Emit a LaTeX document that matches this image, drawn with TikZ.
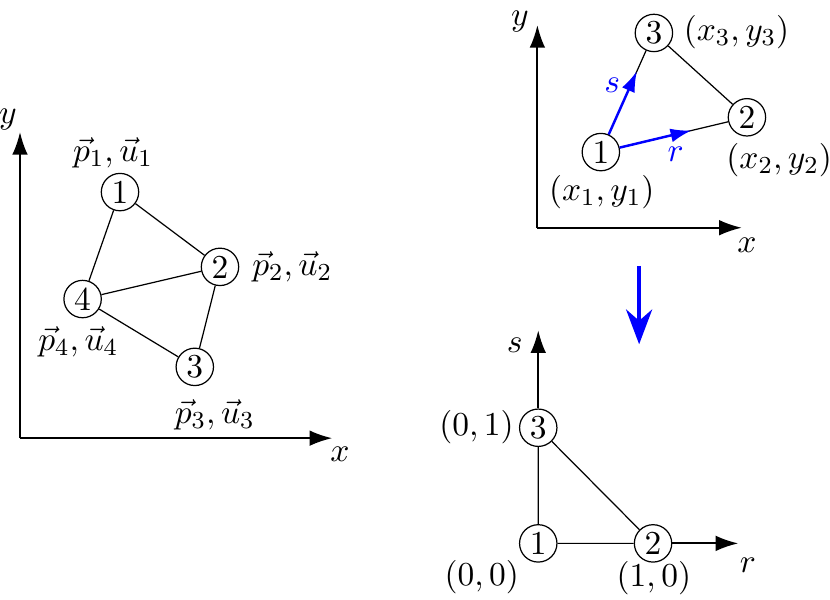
\documentclass[tikz,border=0pt,11pt]{standalone}
\usetikzlibrary{arrows.meta,calc}

\begin{document}
\begin{tikzpicture}
      [
        vertex/.style = {draw, circle, fill=white, inner sep=0pt, minimum size=0.43cm},
        axis/.style = {draw, line width=0.6pt, -{Latex[length=2.6mm,width=1.8mm]}},
        edge/.style = {draw, line width=0.4pt},
        local/.style = {draw, blue, line width=0.8pt, -{Latex[length=2.4mm,width=1.6mm]}},
      ]

      \useasboundingbox (0,0) rectangle (9.545,6.889);

      % physical element
      \coordinate (o1) at (0.23,1.85);
      \coordinate (y1) at (0.23,5.37);
      \coordinate (x1) at (3.82,1.85);
      \draw[axis] (o1) -- (y1);
      \draw[axis] (o1) -- (x1);
      \node[] (ly1) at (0.09,5.51) {$y$};
      \node[] (lx1) at (3.91,1.66) {$x$};

      \node[vertex] (n1) at (1.38,4.68) {1};
      \node[vertex] (n2) at (2.53,3.82) {2};
      \node[vertex] (n3) at (2.24,2.67) {3};
      \node[vertex] (n4) at (0.95,3.45) {4};
      \draw[edge] (n1) -- (n2) -- (n3) -- (n4) -- (n1);
      \draw[edge] (n4) -- (n2);

      \node[] (p1) at (1.30,5.13) {$\vec{p}_1,\vec{u}_1$};
      \node[] (p2) at (3.36,3.82) {$\vec{p}_2,\vec{u}_2$};
      \node[] (p3) at (2.47,2.12) {$\vec{p}_3,\vec{u}_3$};
      \node[] (p4) at (0.90,2.96) {$\vec{p}_4,\vec{u}_4$};

      % triangle in (x,y)
      \coordinate (o2) at (6.18,4.27);
      \coordinate (y2) at (6.18,6.60);
      \coordinate (x2) at (8.53,4.27);
      \draw[axis] (o2) -- (y2);
      \draw[axis] (o2) -- (x2);
      \node[inner sep=1pt] (ly2) at (5.98,6.64) {$y$};
      \node[] (lx2) at (8.59,4.07) {$x$};

      \node[vertex] (m1) at (6.91,5.14) {1};
      \node[vertex] (m2) at (8.59,5.54) {2};
      \node[vertex] (m3) at (7.52,6.51) {3};
      \draw[edge] (m1) -- (m2) -- (m3) -- (m1);
      \draw[local] (m1) -- ($(m1)!0.62!(m2)$);
      \draw[local] (m1) -- ($(m1)!0.68!(m3)$);
      \node[blue] (ls) at (7.04,5.91) {$s$};
      \node[blue] (lr) at (7.77,5.12) {$r$};

      \node[] (c1) at (6.92,4.68) {$(x_1,y_1)$};
      \node[] (c2) at (8.96,5.05) {$(x_2,y_2)$};
      \node[] (c3) at (8.47,6.52) {$(x_3,y_3)$};

      % mapping
      \coordinate (mapa) at (7.35,3.83);
      \coordinate (mapb) at (7.35,2.93);
      \draw[blue, line width=1.2pt, -{Stealth[length=4mm,width=3mm]}] (mapa) -- (mapb);

      % reference triangle
      \node[vertex] (b1) at (6.19,0.64) {1};
      \node[vertex] (b2) at (7.51,0.64) {2};
      \node[vertex] (b3) at (6.19,1.97) {3};
      \coordinate (st) at (6.19,3.09);
      \coordinate (re) at (8.49,0.64);
      \draw[edge] (b1) -- (b2) -- (b3) -- (b1);
      \draw[axis] (b3) -- (st);
      \draw[axis] (b2) -- (re);
      \node[] (ls2) at (5.92,2.92) {$s$};
      \node[] (lr2) at (8.60,0.39) {$r$};

      \node[] (d3) at (5.48,1.98) {$(0,1)$};
      \node[] (d1) at (5.54,0.25) {$(0,0)$};
      \node[] (d2) at (7.52,0.24) {$(1,0)$};

    \end{tikzpicture}
\end{document}
